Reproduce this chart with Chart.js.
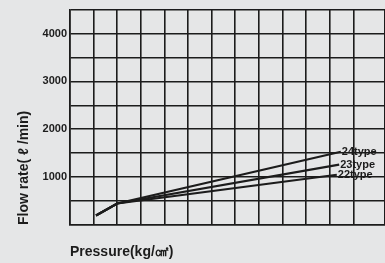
<!DOCTYPE html>
<html>
<head>
<meta charset="utf-8">
<script src="https://cdn.jsdelivr.net/npm/chart.js@4.4.1/dist/chart.umd.min.js"></script>
<style>
  html, body { margin: 0; padding: 0; background: #e5e6e7; overflow: hidden; }
  #wrap { width: 385px; height: 263px; }
</style>
</head>
<body>
<div id="wrap"><canvas id="flow" width="385" height="263"></canvas></div>
<script>
// pressure (kg/cm2) against flow rate (l/min)
const typeNames = ['24type', '23type', '22type'];
const pressure24 = [1.1, 2, 11.47];
const flow24 = [200, 450, 1530];
const pressure23 = [1.1, 2, 11.4];
const flow23 = [200, 450, 1260];
const pressure22 = [1.1, 2, 11.3];
const flow22 = [200, 450, 1050];
const flowTicks = [1000, 2000, 3000, 4000];

const ink = '#1c1c1c';
const family = "'Liberation Sans', Arial, Helvetica, sans-serif";

function points(xs, ys) {
  return xs.map((x, i) => ({ x: x, y: ys[i] }));
}

// type name written just right of where each line stops
const endLabels = {
  id: 'endLabels',
  afterDatasetsDraw(chart) {
    const ctx = chart.ctx;
    ctx.save();
    ctx.font = 'bold 11px ' + family;
    ctx.fillStyle = ink;
    ctx.textBaseline = 'middle';
    chart.data.datasets.forEach((ds, i) => {
      const pts = chart.getDatasetMeta(i).data;
      const last = pts[pts.length - 1];
      ctx.fillText(ds.label, last.x + 1, last.y);
    });
    ctx.restore();
  }
};

const lineStyle = { borderColor: ink, borderWidth: 2.2, pointRadius: 0, fill: false, tension: 0 };

new Chart(document.getElementById('flow'), {
  type: 'line',
  data: {
    datasets: [
      { label: typeNames[0], data: points(pressure24, flow24), ...lineStyle },
      { label: typeNames[1], data: points(pressure23, flow23), ...lineStyle },
      { label: typeNames[2], data: points(pressure22, flow22), ...lineStyle }
    ]
  },
  options: {
    responsive: false,
    animation: false,
    layout: { padding: { top: 8, left: 0, right: 0, bottom: 0 } },
    plugins: { legend: { display: false }, tooltip: { enabled: false } },
    scales: {
      x: {
        type: 'linear',
        min: 0,
        max: 13.34,
        ticks: { display: false, stepSize: 1 },
        grid: { color: ink, lineWidth: 1.6, drawTicks: false },
        border: { color: ink, width: 1.6 },
        title: {
          display: true,
          text: 'Pressure(kg/㎠)',
          align: 'start',
          color: ink,
          font: { family: family, size: 14, weight: 'bold' },
          padding: { top: 0, bottom: 2 }
        },
        afterFit(scale) { scale.height = 38; }
      },
      y: {
        min: 0,
        max: 4500,
        ticks: {
          stepSize: 500,
          autoSkip: false,
          padding: 3,
          color: ink,
          font: { family: family, size: 11, weight: 'bold' },
          callback: v => flowTicks.includes(v) ? String(v) : ''
        },
        grid: { color: ink, lineWidth: 1.6, drawTicks: false },
        border: { color: ink, width: 1.6 },
        title: {
          display: true,
          text: 'Flow rate( ℓ /min)',
          align: 'start',
          color: ink,
          font: { family: family, size: 14, weight: 'bold' },
          padding: { top: 16, bottom: 0 }
        },
        afterFit(scale) { scale.width = 70; }
      }
    }
  },
  plugins: [endLabels]
});
</script>
</body>
</html>
